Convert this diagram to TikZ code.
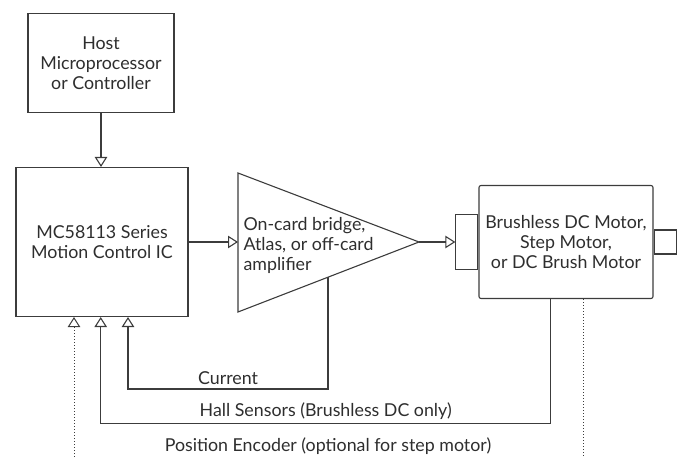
\documentclass[tikz,border=0pt]{standalone}
\usepackage{fontspec}
\setmainfont{Lato}
\usetikzlibrary{arrows.meta,positioning}
\definecolor{linegray}{HTML}{3C3C3C}
\definecolor{textgray}{HTML}{2E2E2E}

\begin{document}
\begin{tikzpicture}[%
            x=1pt, y=-1pt,
            >={Triangle[open,length=10pt,width=12.5pt]},
            line width=1.1pt,
            color=linegray,
            font=\fontsize{17.8}{20}\selectfont,
            block/.style={draw, rectangle, align=center, inner sep=0pt, text=textgray},
            lbl/.style={text=textgray},
            fb/.style={dash pattern=on 1pt off 2pt, line width=1pt}
            ]
            \useasboundingbox (0,0) rectangle (681,457);

            \node[block, minimum width=146pt, minimum height=99pt] (host) at (101,63) {Host\\Microprocessor\\or Controller};
            \node[block, minimum width=172pt, minimum height=149pt] (mc) at (102,242) {MC58113 Series\\Motion Control IC};

            % amplifier
            \coordinate (amptop) at (238,173);
            \coordinate (ampbot) at (238,312);
            \coordinate (amptip) at (419,242);
            \coordinate (ampin) at (238,242);
            \coordinate (ampfb) at (328,277);
            \draw (amptop) -- (amptip) -- (ampbot) -- cycle;
            \node[lbl, anchor=west, align=left, inner sep=0pt] (amp) at (243,245) {On-card bridge,\\Atlas, or off-card\\amplifier};

            % motor
            \node[block, rounded corners=2pt, minimum width=174pt, minimum height=113pt] (motor) at (566,242) {Brushless DC Motor,\\Step Motor,\\or DC Brush Motor};
            \node[block, minimum width=22pt, minimum height=55pt, left=0pt of motor] (mleft) {};
            \node[block, minimum width=22pt, minimum height=24pt, right=0pt of motor] (shaft) {};

            \path[->] (host.south) edge (host.south |- mc.north);
            \path[->] (mc.east) edge (ampin);
            \path[->] (amptip) edge (amptip -| mleft.west);

            \draw[->] (ampfb) -- ++(0,112) -| ([xshift=26pt]mc.south) node[lbl, pos=0.25, above] {Current};
            \draw[->] ([xshift=-15.3pt]motor.south) -- ++(0,124.5) -| ([xshift=-1.3pt]mc.south) node[lbl, pos=0.25, above] {Hall Sensors (Brushless DC only)};

            \coordinate (encL) at (74,457);
            \coordinate (encR) at (583,457);
            \draw[fb, ->] (encL) -- (encL |- mc.south);
            \draw[fb] ([xshift=17pt]motor.south) -- (encR);
            \node[lbl] (enc) at (328,446) {Position Encoder (optional for step motor)};

        \end{tikzpicture}
\end{document}
